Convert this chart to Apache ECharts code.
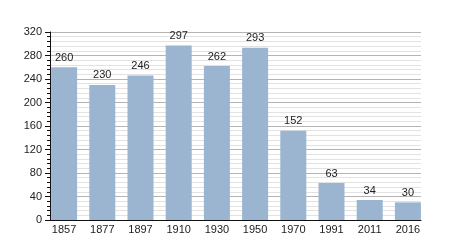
<!DOCTYPE html>
<html>
<head>
<meta charset="utf-8">
<script src="https://cdn.jsdelivr.net/npm/echarts@6/dist/echarts.min.js"></script>
<style>html,body{margin:0;padding:0;background:#fff;}#c{width:450px;height:250px;}</style>
</head>
<body>
<div id="c"></div>
<script>
var categories = ['1857','1877','1897','1910','1930','1950','1970','1991','2011','2016'];
var values = [260, 230, 246, 297, 262, 293, 152, 63, 34, 30];
var yTicks = [0, 40, 80, 120, 160, 200, 240, 280, 320];

var chart = echarts.init(document.getElementById('c'), null, {renderer: 'canvas'});
var font = '"Liberation Sans", Arial, sans-serif';
chart.setOption({
  animation: false,
  backgroundColor: '#fff',
  grid: [
    {left: 50, right: 29, top: 32, bottom: 30},
    {left: 45, right: 23, top: 32, bottom: 30}
  ],
  xAxis: [
    {gridIndex: 0, type: 'category', data: categories,
     axisLine: {show: true, lineStyle: {color: '#111', width: 1}},
     axisTick: {show: false}, axisLabel: {show: false}, splitLine: {show: false}, z: 5},
    {gridIndex: 1, type: 'category', data: categories,
     axisLine: {show: false}, axisTick: {show: false},
     axisLabel: {fontSize: 11, color: '#222', fontFamily: font, margin: 4}}
  ],
  yAxis: [
    {gridIndex: 0, type: 'value', min: yTicks[0], max: yTicks[yTicks.length - 1], interval: 40,
     axisLine: {show: true, lineStyle: {color: '#111', width: 1}},
     axisTick: {show: true, length: 5, lineStyle: {color: '#111'}},
     minorTick: {show: true, splitNumber: 5, length: 3, lineStyle: {color: '#111'}},
     axisLabel: {fontSize: 11, color: '#222', fontFamily: font, margin: 8},
     splitLine: {show: true, lineStyle: {color: '#b4b4b4', width: 1}},
     minorSplitLine: {show: true, lineStyle: {color: '#e2e2e2', width: 1}}},
    {gridIndex: 1, type: 'value', min: yTicks[0], max: yTicks[yTicks.length - 1], show: false,
     splitLine: {show: false}}
  ],
  series: [{
    type: 'bar', xAxisIndex: 1, yAxisIndex: 1, data: values, barWidth: 26,
    itemStyle: {color: '#9bb4cf'},
    label: {show: true, position: 'top', distance: 4, fontSize: 11, color: '#222', fontFamily: font},
    z: 3
  }]
});
</script>
</body>
</html>
